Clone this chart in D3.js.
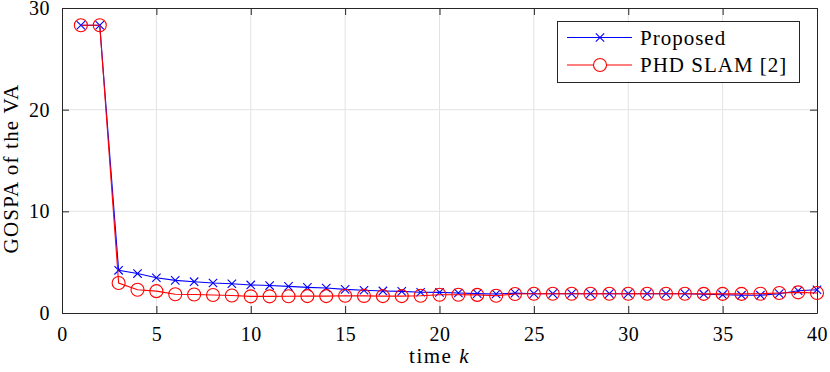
<!DOCTYPE html>
<html>
<head>
<meta charset="utf-8">
<script src="https://cdn.jsdelivr.net/npm/d3@7"></script>
<style>
  body { margin: 0; background: #fff; }
  text { font-family: "Liberation Serif", "Times New Roman", serif; fill: #000; }
</style>
</head>
<body>
<svg width="830" height="372"></svg>
<script>
var timeSteps = d3.range(1, 41);
// GOSPA values
var proposed = [28.3, 28.3, 4.2, 3.88, 3.47, 3.21, 3.08, 2.95, 2.88, 2.76,
                2.7, 2.62, 2.52, 2.46, 2.32, 2.24, 2.17, 2.13, 2.04, 2.03,
                1.97, 1.91, 1.87, 1.95, 1.9, 1.9, 1.9, 1.9, 1.9, 1.9,
                1.9, 1.9, 1.9, 1.85, 1.8, 1.75, 1.75, 1.9, 2.19, 2.29];
var phdSlam = [28.3, 28.3, 2.95, 2.28, 2.15, 1.84, 1.82, 1.77, 1.72, 1.64,
               1.64, 1.65, 1.66, 1.66, 1.7, 1.68, 1.66, 1.66, 1.7, 1.8,
               1.8, 1.78, 1.7, 1.87, 1.9, 1.9, 1.9, 1.9, 1.9, 1.9,
               1.9, 1.9, 1.9, 1.88, 1.88, 1.88, 1.9, 1.97, 2.03, 1.97];
var xTicks = [0, 5, 10, 15, 20, 25, 30, 35, 40];
var yTicks = [0, 10, 20, 30];
var seriesNames = ["Proposed", "PHD SLAM [2]"];

var svg = d3.select("svg"),
    pLeft = 62, pRight = 817, pTop = 8, pBottom = 313;

var x = d3.scaleLinear().domain([0, 40]).range([pLeft, pRight]);
var y = d3.scaleLinear().domain([0, 30]).range([pBottom, pTop]);

// grid
var grid = svg.append("g").attr("stroke", "#e3e3e3").attr("stroke-width", 1);
grid.selectAll(".gx").data(xTicks.slice(1, -1)).enter().append("line")
    .attr("x1", function(d) { return x(d); }).attr("x2", function(d) { return x(d); })
    .attr("y1", pTop).attr("y2", pBottom);
grid.selectAll(".gy").data(yTicks.slice(1, -1)).enter().append("line")
    .attr("x1", pLeft).attr("x2", pRight)
    .attr("y1", function(d) { return y(d); }).attr("y2", function(d) { return y(d); });

// axes
svg.append("g").attr("transform", "translate(0," + pBottom + ")")
    .call(d3.axisBottom(x).tickValues(xTicks).tickSizeInner(-7).tickSizeOuter(0).tickPadding(14));
svg.append("g").attr("transform", "translate(0," + pTop + ")")
    .call(d3.axisTop(x).tickValues(xTicks).tickSizeInner(-7).tickSizeOuter(0).tickFormat(""));
svg.append("g").attr("transform", "translate(" + pLeft + ",0)")
    .call(d3.axisLeft(y).tickValues(yTicks).tickSizeInner(-7).tickSizeOuter(0).tickPadding(12));
svg.append("g").attr("transform", "translate(" + pRight + ",0)")
    .call(d3.axisRight(y).tickValues(yTicks).tickSizeInner(-7).tickSizeOuter(0).tickFormat(""));

svg.selectAll(".domain, .tick line").attr("stroke", "#262626").attr("stroke-width", 1);
svg.selectAll(".tick text").style("font-family", "Liberation Serif").style("font-size", "20px")
    .style("letter-spacing", "0.5px").attr("fill", "#000");

// series
var line = d3.line()
    .x(function(d, i) { return x(timeSteps[i]); })
    .y(function(d) { return y(d); });

svg.append("path").datum(proposed)
    .attr("d", line).attr("fill", "none").attr("stroke", "#0000ff").attr("stroke-width", 1.1);

var cs = 4.2;
function cross(cx, cy) {
  return "M" + (cx - cs) + "," + (cy - cs) + "L" + (cx + cs) + "," + (cy + cs) +
         "M" + (cx - cs) + "," + (cy + cs) + "L" + (cx + cs) + "," + (cy - cs);
}
svg.append("g").selectAll("path").data(proposed).enter().append("path")
    .attr("d", function(d, i) { return cross(x(timeSteps[i]), y(d)); })
    .attr("stroke", "#0000ff").attr("stroke-width", 1.1);

svg.append("path").datum(phdSlam)
    .attr("d", line).attr("fill", "none").attr("stroke", "#ff0000").attr("stroke-width", 1.1);

svg.append("g").selectAll("circle").data(phdSlam).enter().append("circle")
    .attr("cx", function(d, i) { return x(timeSteps[i]); })
    .attr("cy", function(d) { return y(d); })
    .attr("r", 6.5)
    .attr("fill", "none").attr("stroke", "#ff0000").attr("stroke-width", 1.1);

// legend
var lg = svg.append("g");
lg.append("rect").attr("x", 557.5).attr("y", 21.5).attr("width", 242).attr("height", 61)
    .attr("fill", "#fff").attr("stroke", "#262626").attr("stroke-width", 1);
var ly = [37.5, 65];
lg.append("line").attr("x1", 567).attr("x2", 632).attr("y1", ly[0]).attr("y2", ly[0])
    .attr("stroke", "#0000ff").attr("stroke-width", 1.1);
lg.append("path").attr("d", cross(600, ly[0]))
    .attr("stroke", "#0000ff").attr("stroke-width", 1.1);
lg.append("line").attr("x1", 567).attr("x2", 632).attr("y1", ly[1]).attr("y2", ly[1])
    .attr("stroke", "#ff0000").attr("stroke-width", 1.1);
lg.append("circle").attr("cx", 600).attr("cy", ly[1]).attr("r", 6.5)
    .attr("fill", "#fff").attr("stroke", "#ff0000").attr("stroke-width", 1.1);
lg.selectAll("text").data(seriesNames).enter().append("text")
    .attr("x", 640).attr("y", function(d, i) { return ly[i]; })
    .attr("dy", "0.35em").style("font-size", "21px").style("letter-spacing", "1px")
    .text(function(d) { return d; });

// axis labels
var xl = svg.append("text").attr("x", (pLeft + pRight) / 2).attr("y", 363)
    .attr("text-anchor", "middle").style("font-size", "21px").style("letter-spacing", "1.5px");
xl.append("tspan").text("time ");
xl.append("tspan").style("font-style", "italic").text("k");

svg.append("text")
    .attr("transform", "translate(18," + ((pTop + pBottom) / 2 + 8) + ") rotate(-90)")
    .attr("text-anchor", "middle").style("font-size", "21px").style("letter-spacing", "1.2px")
    .text("GOSPA of the VA");
</script>
</body>
</html>
